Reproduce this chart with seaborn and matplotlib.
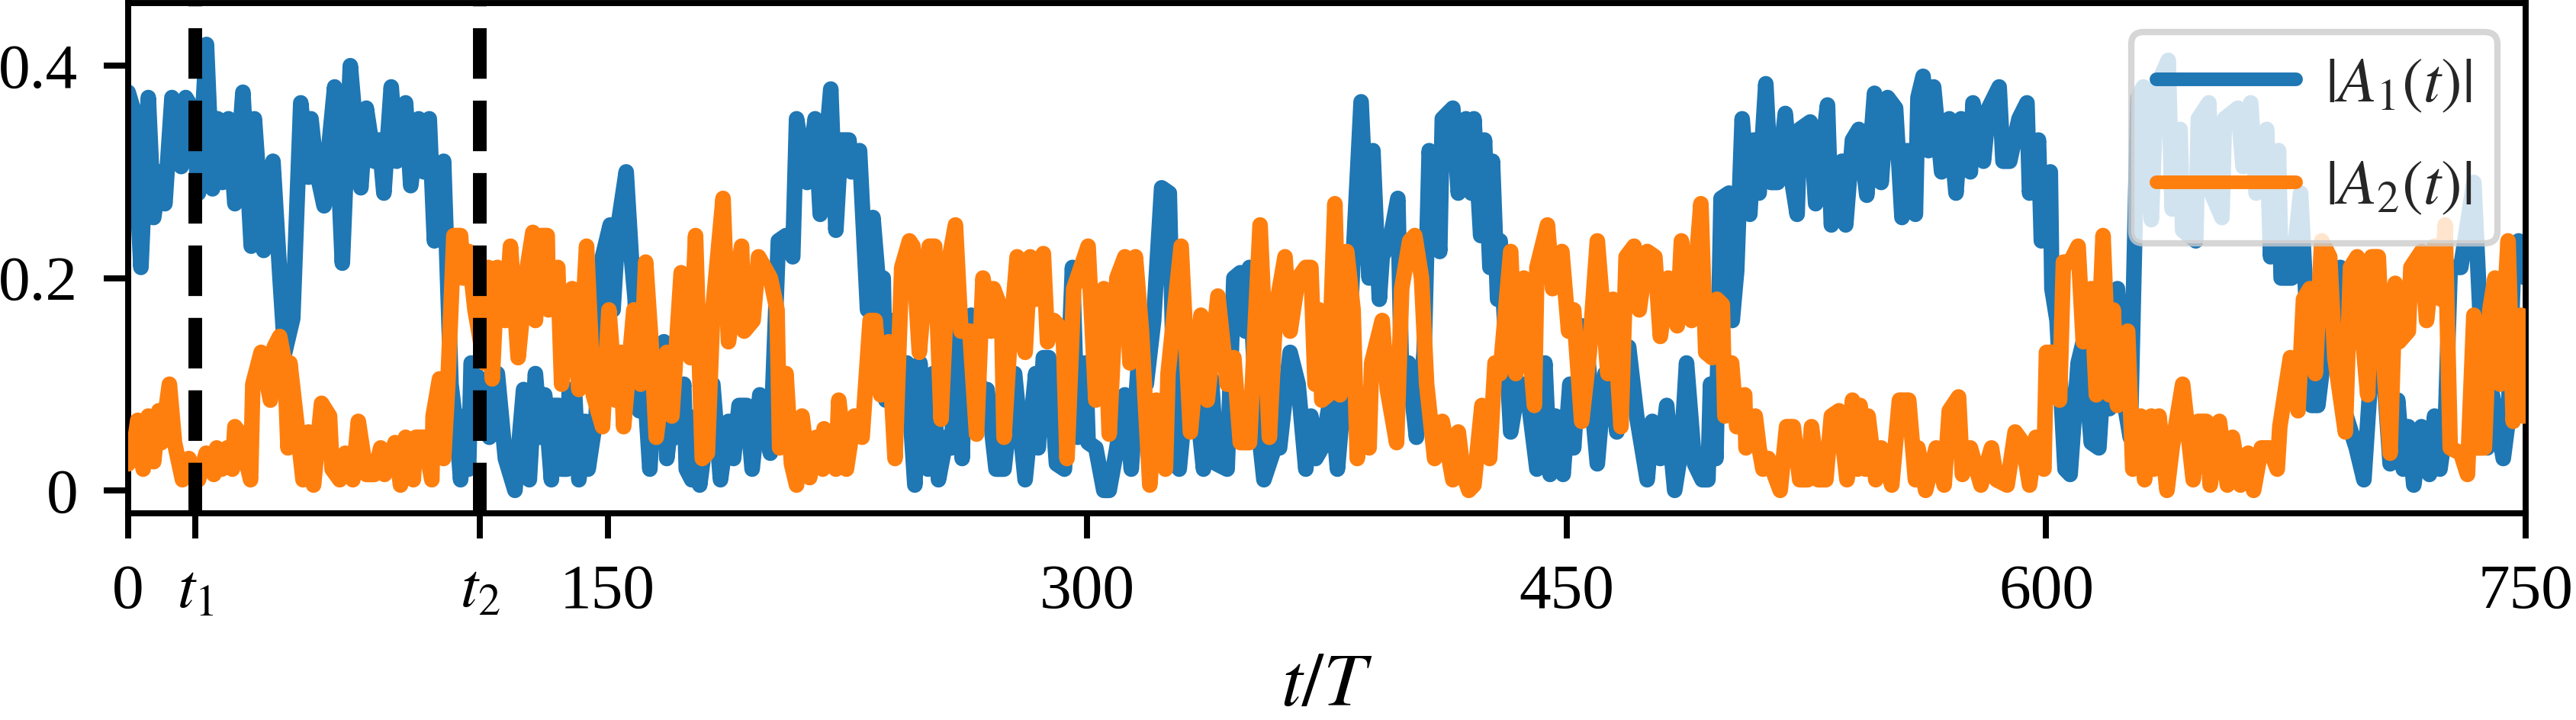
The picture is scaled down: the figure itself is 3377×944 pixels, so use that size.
import numpy as np
import pandas as pd
import matplotlib
matplotlib.use("Agg")
import matplotlib.pyplot as plt
import seaborn as sns

# ---------------- data ----------------
t1_mark = 21.0
t2_mark = 110.0

tA1 = [0, 1.5, 4, 6.3, 8, 10, 11.5, 13.7, 16.6, 18, 20, 22, 24.5, 26.4, 28, 29.5, 31.4, 33.4,
       35.9, 38.5, 39.5, 42.4, 45.3, 47.5, 49, 51.5, 54, 56.4, 57.2, 59, 61.3, 63, 64.6, 67,
       69.5, 72.8, 74.5, 77, 78.5, 80, 82.3, 84, 86.8, 88.4, 90.9, 92.5, 94.2, 95.8, 98.7,
       101, 103, 104, 105.3, 106.5, 107.3, 110, 112, 113, 115.5, 118, 121, 123.7, 125.5,
       127.4, 129, 130.3, 132.4, 133, 134.8, 135.6, 137.3, 138, 139.7, 141, 143, 143.9,
       146.4, 148.4, 150.8, 151.7, 153.3, 155.8, 157.4, 158.6, 159.9, 161.5, 163.2, 165,
       167.6, 168.5, 169.3, 171.4, 173.8, 174.6, 176.3, 177.9, 178.8, 182.9, 185.3, 187.8,
       189.4, 191.1, 193.5, 195.2, 197.6, 200.9, 203.4, 205.8, 207.9, 209.1, 212.4, 214.9,
       216.5, 219.8, 221.4, 223, 225.5, 226.3, 228.8, 231.3, 233, 235.4, 236.2, 237, 238.7,
       241, 243.6, 246.1, 247.7, 250.2, 251.8, 253.5, 256, 257.6, 259.2, 260.9, 261.7,
       263.7, 266.6, 268.7, 271.5, 274, 277.3, 280.6, 283.9, 284.7, 286.3, 288, 290.4,
       292.9, 295.4, 297, 299.5, 300.3, 302.7, 305.2, 306.9, 309.3, 311.8, 313.8, 316.7,
       318.5, 320.8, 323.3, 325.7, 327, 328.8, 330.7, 334, 336.4, 338.9, 340.5, 343.8,
       345.9, 347.9, 349.5, 350.8, 352.8, 355.3, 358.6, 360.2, 363.5, 366, 368.4, 370,
       371.5, 373.4, 376.3, 378.3, 380, 382.4, 385.7, 388.2, 389.4, 391.4, 392.3, 394.7,
       397.2, 398.4, 400.5, 403, 405.4, 407, 410.3, 411.1, 414.4, 416.1, 418.5, 420.2, 421,
       423.1, 424.3, 426, 426.8, 428.4, 429.2, 432.5, 435, 437.4, 440.7, 443.2, 444.8,
       446.5, 448.9, 451, 452.2, 454.7, 456.3, 459.6, 462, 463.7, 465.7, 467.7, 469.4,
       471.9, 475.2, 476.8, 479.3, 481.3, 483.8, 485.9, 487.5, 490, 492.4, 494.2, 495,
       496.7, 498.3, 500.8, 501.8, 503.2, 504.9, 507.3, 508.6, 510.2, 512.3, 513.9, 516,
       518.4, 520, 522.1, 522.9, 526.2, 527.9, 531.6, 532.8, 536.1, 537.3, 539.4, 541.4,
       543.9, 546.3, 548.4, 550.4, 552.9, 554.9, 556.6, 559.1, 559.9, 561.5, 563.2, 564.8,
       567.3, 569.7, 571.8, 573.4, 576.3, 577.1, 580.4, 582, 585.3, 586.5, 588.6, 591.5,
       594, 594.8, 597.6, 598.5, 601.3, 601.8, 603.4, 605.9, 607.5, 610, 611.6, 614.1,
       616.5, 618.2, 619.8, 622.3, 624.6, 626.3, 628.7, 630.4, 632.9, 634.5, 638.2, 639.4,
       641.9, 642.7, 646.8, 647.6, 650.9, 651.7, 655, 655.8, 660, 661.6, 664, 665.7, 669,
       670.2, 672.7, 673.5, 676.8, 679.6, 683, 685, 687, 692, 692.8, 697, 699.4, 702.9,
       704.5, 707.6, 710, 711.7, 713.3, 715, 717.4, 719.9, 721.5, 723.2, 724.8, 726.4,
       729.7, 733.8, 736.3, 738, 739.6, 743, 744.5, 746.2, 747.8, 750]
A1 = [0.375, 0.36, 0.21, 0.37, 0.257, 0.30, 0.27, 0.37, 0.305, 0.37, 0.36, 0.28, 0.42, 0.284,
      0.35, 0.29, 0.35, 0.27, 0.375, 0.23, 0.35, 0.226, 0.31, 0.2, 0.13, 0.162, 0.365, 0.295,
      0.35, 0.3, 0.268, 0.33, 0.38, 0.214, 0.40, 0.285, 0.36, 0.31, 0.33, 0.28, 0.38, 0.31,
      0.365, 0.287, 0.35, 0.30, 0.35, 0.235, 0.31,
      0.10, 0.05, 0.01, 0.07, 0.02, 0.12, 0.1, 0.105, 0.05, 0.11, 0.03, 0.0, 0.095, 0.01,
      0.11, 0.05, 0.09, 0.01, 0.08, 0.08, 0.02, 0.02, 0.095, 0.09, 0.01, 0.065, 0.02,
      0.07, 0.22, 0.25, 0.17, 0.25, 0.30, 0.22, 0.18, 0.075, 0.1, 0.02, 0.12,
      0.14, 0.03, 0.05, 0.05, 0.10, 0.02, 0.01, 0.07, 0.005, 0.10, 0.01, 0.065,
      0.03, 0.08, 0.08, 0.02, 0.09, 0.035, 0.235, 0.24, 0.22, 0.35, 0.29, 0.35,
      0.26, 0.378, 0.245, 0.33, 0.33, 0.3, 0.32, 0.17, 0.257, 0.17, 0.2, 0.085, 0.16,
      0.10, 0.12, 0.005, 0.12, 0.02, 0.11, 0.01, 0.05, 0.04, 0.165, 0.03, 0.12,
      0.165, 0.09, 0.095, 0.02, 0.02, 0.11, 0.01, 0.11, 0.04, 0.125, 0.125, 0.025,
      0.02, 0.21, 0.05, 0.12, 0.045, 0.04, 0.0, 0.0, 0.04, 0.09, 0.02, 0.15,
      0.1, 0.16, 0.285, 0.28, 0.11, 0.02, 0.08, 0.09, 0.02, 0.105, 0.025, 0.02,
      0.2, 0.205, 0.15, 0.21, 0.08, 0.01, 0.04, 0.04, 0.13, 0.10, 0.02, 0.07,
      0.03, 0.04, 0.09, 0.02, 0.08, 0.17, 0.366, 0.2, 0.32, 0.18, 0.22, 0.235,
      0.275, 0.1, 0.12, 0.05, 0.13, 0.32, 0.225, 0.35, 0.36, 0.28, 0.35, 0.28, 0.35,
      0.24, 0.33, 0.21, 0.31, 0.18, 0.235, 0.055, 0.1, 0.1, 0.02, 0.12, 0.015,
      0.07, 0.015, 0.1, 0.04, 0.155, 0.135, 0.025, 0.11, 0.11, 0.055, 0.135, 0.135,
      0.07, 0.01, 0.065, 0.03, 0.08, 0.0, 0.04, 0.12, 0.025, 0.01, 0.01, 0.1,
      0.03, 0.275, 0.28, 0.16, 0.207, 0.35, 0.26, 0.33, 0.28, 0.383, 0.29, 0.29,
      0.355, 0.3, 0.26, 0.34, 0.347, 0.27, 0.363, 0.25, 0.31, 0.25, 0.33, 0.34,
      0.278, 0.374, 0.29, 0.37, 0.36, 0.257, 0.32, 0.26, 0.37, 0.39, 0.32, 0.38,
      0.30, 0.35, 0.28, 0.35, 0.30, 0.365, 0.31, 0.36, 0.38, 0.31, 0.31, 0.35,
      0.365, 0.28, 0.33, 0.235, 0.30, 0.19, 0.16, 0.02, 0.015, 0.12, 0.14, 0.045,
      0.04, 0.12, 0.077, 0.19, 0.08, 0.05, 0.37, 0.38, 0.255, 0.38, 0.405, 0.265,
      0.34, 0.245, 0.235, 0.35, 0.365, 0.28, 0.257, 0.35, 0.36, 0.305, 0.365, 0.28, 0.34,
      0.22, 0.32, 0.2, 0.2, 0.28, 0.08, 0.08, 0.13, 0.21, 0.08, 0.04, 0.01, 0.17,
      0.16, 0.025, 0.085, 0.02, 0.06, 0.005, 0.06, 0.015, 0.07, 0.02, 0.055, 0.21,
      0.21, 0.29, 0.13, 0.04, 0.09, 0.03, 0.065, 0.21, 0.235, 0.2]

tA2 = [0, 1.5, 3, 4.7, 6.3, 8, 9.6, 10.4, 12.9, 14.5, 17, 19, 22, 24.4, 26.8, 27.7, 29.3, 31,
       32.6, 33.4, 35.9, 36.7, 38.3, 39, 41.6, 44.5, 45.7, 47.4, 49, 50, 50.6, 52.3, 54.7,
       56.4, 58, 60.5, 63, 63.8, 66.2, 67.9, 70.3, 72, 74.5, 77, 79, 80.2, 83.5, 85.2,
       86.8, 89.2, 90, 92.5, 95, 95.4, 97.4, 98.7, 100, 101.9, 104, 104.8, 106.5, 108.5,
       111.4, 112.6, 113.9, 115.5, 118, 119.6, 122, 124.6, 126.6, 127.4, 129, 131.1,
       131.5, 134.4, 135.6, 138.9, 141, 143.4, 145.5, 148.4, 150.4, 152.5, 154.1, 155,
       158.2, 160.3, 161.9, 164, 165.2, 168.5, 170.1, 173, 175.9, 177.5, 179.6, 181.2,
       182.9, 186.1, 187.8, 191.9, 192.7, 195.5, 197.2, 200.9, 203, 203.8, 205.8, 207.5,
       209.1, 210.8, 213.2, 215.3, 217.3, 217.7, 221.4, 222.3, 224.7, 227.2, 229.6,
       232.1, 233.7, 235.4, 237.9, 239.9, 242, 244.4, 245.5, 247.5, 249.5, 250.6, 252.3,
       254.3, 256.4, 258.8, 260.5, 263.3, 265.4, 267.4, 269.9, 270.7, 273.2, 274, 275.6,
       278.1, 280.6, 282.2, 283.9, 286.3, 287.6, 289.6, 292.5, 293.7, 295.8, 300.3,
       302.7, 305.2, 306.9, 309.3, 311.8, 313.4, 315.1, 317, 319.6, 321.6, 324.5, 325.3,
       329.4, 332.3, 335.6, 337.6, 340.9, 343.8, 345.9, 347.9, 350.8, 354.1, 357, 359,
       361.9, 363.5, 366, 368.4, 370, 371.3, 372.6, 373.4, 375.4, 377.5, 379.1, 381.2,
       383.2, 384.5, 386.5, 388.2, 389, 392.3, 393.9, 396.8, 398.4, 400.9, 402.5, 404.6,
       406.2, 408.7, 411.1, 414.4, 416.1, 417.7, 419.4, 421, 423.5, 425.9, 427.6, 429.2,
       432.5, 434.1, 436.6, 439.9, 440.7, 444, 445.6, 448.5, 450.6, 452.2, 454.7, 457.1,
       459.6, 462.9, 464.5, 467, 468.6, 471.1, 472.7, 475.2, 477.6, 479.3, 481.8, 484.6,
       485.9, 489.1, 492, 493.5, 495.5, 497, 498.7, 499.5, 501.6, 503.2, 505.7, 506.1,
       509, 510.2, 511.4, 513.1, 516.8, 518.8, 520.9, 522.9, 525.4, 526.6, 528.7, 531.1,
       532.8, 535.2, 537.7, 539.4, 541, 541.8, 543.5, 544.3, 546.7, 548.4, 551.7, 554.1,
       557, 559.1, 559.9, 562.3, 565.6, 568.1, 569.7, 572.6, 573.8, 576.3, 579.6, 582.9,
       584.5, 587.8, 590.3, 592.7, 594.8, 596.8, 599.3, 600.1, 603.4, 604.2, 605.4,
       607.5, 610, 611.6, 614.1, 615.7, 617.8, 619.8, 621, 622.3, 623, 625.5, 627.1,
       629.6, 630.8, 632.9, 633.7, 635.3, 637.8, 639.4, 642.7, 646, 647.6, 650.1, 651.3,
       654.2, 656.7, 658.3, 660.8, 663.2, 664.9, 667.3, 669.8, 672.3, 673.1, 676.4,
       678.8, 680.5, 682.5, 684.2, 686.2, 688.7, 690.3, 693.6, 695.2, 697.3, 698.5,
       700.6, 701.8, 703.9, 705.1, 707.6, 709.2, 710.4, 713.3, 714.1, 717.4, 719, 721.5,
       723.6, 724.8, 726.4, 729.7, 731.8, 733.8, 734.6, 737.1, 738.8, 740.4, 742, 744.5,
       746.1, 748.6, 749.4, 750]
A2 = [0.025, 0.034, 0.066, 0.02, 0.07, 0.027, 0.075, 0.045, 0.10, 0.045, 0.01, 0.03, 0.01,
      0.035, 0.015, 0.04, 0.02, 0.04, 0.02, 0.06, 0.05, 0.03, 0.01, 0.10, 0.13, 0.085,
      0.135, 0.145, 0.12, 0.04, 0.12, 0.075, 0.01, 0.055, 0.005, 0.082, 0.07, 0.02, 0.01,
      0.035, 0.01, 0.065, 0.015, 0.015, 0.04, 0.015, 0.045, 0.005, 0.05, 0.01, 0.05, 0.05,
      0.01, 0.07, 0.105, 0.03, 0.1, 0.24, 0.24, 0.2, 0.225, 0.17, 0.12, 0.21, 0.105, 0.21,
      0.16, 0.23, 0.125, 0.205, 0.243, 0.16, 0.24, 0.24, 0.17, 0.21, 0.10, 0.19, 0.095,
      0.23, 0.09, 0.06, 0.17, 0.085, 0.13, 0.06, 0.17, 0.1, 0.215, 0.12, 0.05, 0.13, 0.07,
      0.205, 0.125, 0.24, 0.03, 0.035, 0.17, 0.275, 0.14, 0.23, 0.15, 0.16, 0.22, 0.2,
      0.17, 0.04, 0.11, 0.025, 0.005, 0.07, 0.012, 0.05, 0.02, 0.058, 0.02, 0.085, 0.02,
      0.07, 0.05, 0.16, 0.16, 0.09, 0.14, 0.03, 0.21, 0.235, 0.23, 0.13, 0.2, 0.23, 0.23,
      0.067, 0.21, 0.25, 0.15, 0.15, 0.053, 0.2, 0.15, 0.19, 0.17, 0.05, 0.13,
      0.22, 0.13, 0.22, 0.18, 0.223, 0.14, 0.16, 0.15, 0.03, 0.19, 0.23,
      0.085, 0.19, 0.053, 0.2, 0.22, 0.12, 0.22, 0.15, 0.005, 0.085, 0.02, 0.11,
      0.23, 0.055, 0.165, 0.085, 0.183, 0.1, 0.125, 0.045, 0.045, 0.25, 0.05, 0.17,
      0.22, 0.15, 0.2, 0.21, 0.21, 0.1, 0.17, 0.085, 0.09, 0.27, 0.09, 0.225,
      0.17, 0.03, 0.09, 0.04, 0.12, 0.16, 0.095, 0.045, 0.19, 0.235, 0.24, 0.2,
      0.1, 0.03, 0.065, 0.01, 0.055, 0.015, 0.0, 0.005, 0.08, 0.03, 0.12, 0.11,
      0.225, 0.11, 0.2, 0.08, 0.21, 0.25, 0.19, 0.225, 0.15, 0.17, 0.065, 0.13,
      0.235, 0.11, 0.18, 0.06, 0.22, 0.23, 0.17, 0.225, 0.22, 0.145, 0.2, 0.155,
      0.235, 0.16, 0.27, 0.13, 0.125, 0.18, 0.175, 0.07, 0.12, 0.06, 0.09, 0.04,
      0.07, 0.04, 0.02, 0.03, 0.0, 0.06, 0.06, 0.01, 0.01, 0.06, 0.01, 0.01,
      0.07, 0.075, 0.01, 0.085, 0.02, 0.08, 0.02, 0.07, 0.01, 0.04, 0.005, 0.085,
      0.085, 0.01, 0.04, 0.0, 0.04, 0.005, 0.075, 0.088, 0.015, 0.04, 0.005, 0.04,
      0.01, 0.005, 0.055, 0.045, 0.005, 0.05, 0.02, 0.13, 0.13, 0.085, 0.215,
      0.215, 0.23, 0.14, 0.19, 0.09, 0.24, 0.09, 0.17, 0.08, 0.14, 0.15, 0.02,
      0.07, 0.01, 0.07, 0.02, 0.07, 0.0, 0.04, 0.10, 0.01, 0.065, 0.065, 0.005,
      0.065, 0.005, 0.05, 0.005, 0.035, 0.0, 0.04, 0.04, 0.02, 0.06, 0.125,
      0.075, 0.18, 0.19, 0.11, 0.235, 0.22, 0.125, 0.055, 0.21, 0.22, 0.16,
      0.09, 0.22, 0.22, 0.14, 0.035, 0.195, 0.14, 0.15, 0.21, 0.225, 0.16, 0.23,
      0.18, 0.25, 0.04, 0.035, 0.015, 0.165, 0.04, 0.04, 0.17, 0.2, 0.1, 0.235,
      0.065, 0.165, 0.07, 0.15]

x_ticks = [0, t1_mark, t2_mark, 150, 300, 450, 600, 750]
x_ticklabels = ["0", r"$t_1$", r"$t_2$", "150", "300", "450", "600", "750"]
y_ticks = [0, 0.2, 0.4]
y_ticklabels = ["0", "0.2", "0.4"]
labels = [r"$|A_1(t)|$", r"$|A_2(t)|$"]
colors = ["#1f77b4", "#ff7f0e"]

# ---------------- style ----------------
sns.set_theme(style="ticks")
plt.rcParams["font.family"] = ["Liberation Serif", "DejaVu Serif"]
plt.rcParams["mathtext.fontset"] = "stix"
plt.rcParams["axes.linewidth"] = 1.9

W, H = 3377, 944
fig = plt.figure(figsize=(W / 300, H / 300), dpi=300)
ax = fig.add_axes([168 / W, 1 - 673 / H, (3311 - 168) / W, (673 - 4) / H])

df1 = pd.DataFrame({"t": tA1, "A": A1})
df2 = pd.DataFrame({"t": tA2, "A": A2})

sns.lineplot(data=df1, x="t", y="A", ax=ax, color=colors[0], lw=4.9, label=labels[0],
             estimator=None, zorder=2)
sns.lineplot(data=df2, x="t", y="A", ax=ax, color=colors[1], lw=4.9, label=labels[1],
             estimator=None, zorder=3)

for tm in (t1_mark, t2_mark):
    ax.axvline(tm, color="black", ls="--", lw=4.3, zorder=4)

ax.set_xlim(0, 750)
ax.set_ylim(-0.0216, 0.459)
ax.set_xticks(x_ticks)
ax.set_xticklabels(x_ticklabels)
ax.set_yticks(y_ticks)
ax.set_yticklabels(y_ticklabels)
ax.tick_params(axis="both", direction="out", length=7.8, width=1.9, labelsize=20,
               color="black", labelcolor="black", pad=8)
for s in ax.spines.values():
    s.set_color("black")
    s.set_linewidth(1.9)
ax.set_xlabel(r"$t/T$", fontsize=24, color="black", labelpad=10)
ax.set_ylabel("")

leg = ax.legend(loc="upper right", fontsize=20, handlelength=2.2, handletextpad=0.45,
                labelspacing=0.7, borderaxespad=0.45, fancybox=True, framealpha=0.8)
leg.get_frame().set_edgecolor("0.8")
leg.get_frame().set_linewidth(2.0)
for line in leg.get_lines():
    line.set_linewidth(4.3)

fig.savefig("out.png", dpi=300)
